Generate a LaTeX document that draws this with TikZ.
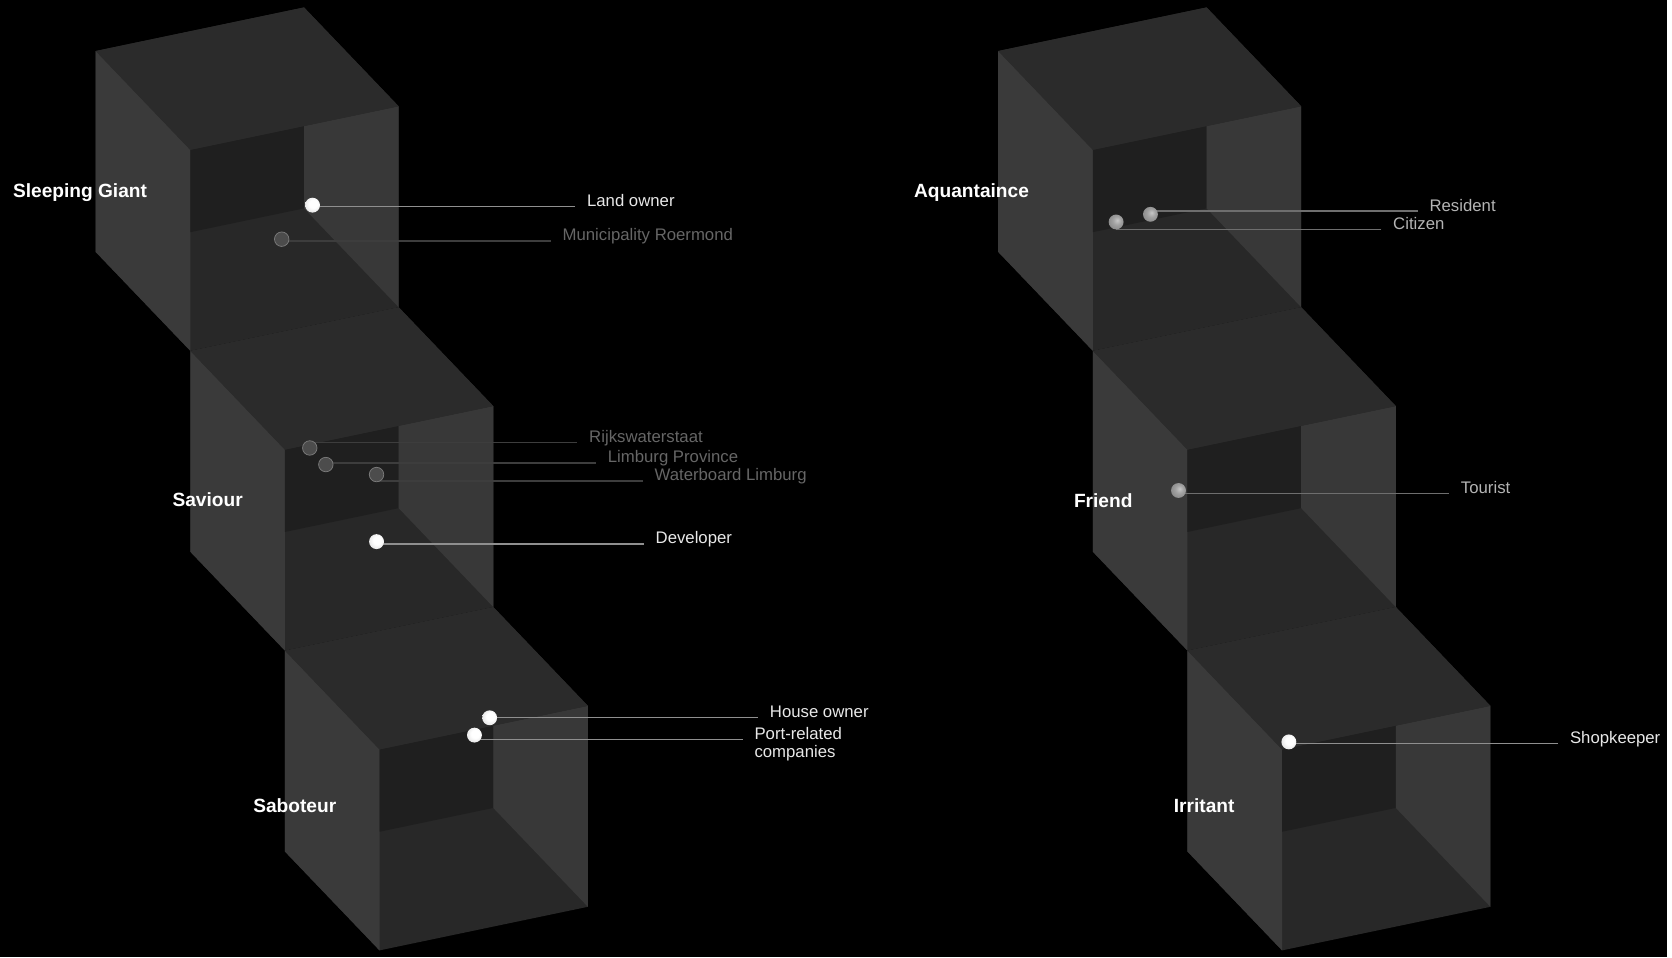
\documentclass[tikz,border=0pt]{standalone}
\usepackage{fontspec}
\setmainfont{Liberation Sans}
\usepackage{tikz}
\usetikzlibrary{positioning,calc}
\usepackage{xcolor}
\definecolor{hullgray}{HTML}{282828}
\definecolor{sidegray}{HTML}{3A3A3A}
\definecolor{rightgray}{HTML}{383838}
\definecolor{lidgray}{HTML}{2B2B2B}
\definecolor{wellgray}{HTML}{1F1F1F}
\definecolor{txtlight}{HTML}{E8E8E8}
\definecolor{txtmid}{HTML}{B4B4B4}
\definecolor{txtdim}{HTML}{666666}
\definecolor{leadlight}{HTML}{8F8F8F}
\definecolor{leadmid}{HTML}{6E6E6E}
\definecolor{leaddim}{HTML}{3D3D3D}
\pgfdeclareradialshading{pearl}{\pgfpoint{4bp}{6bp}}{color(0bp)=(white); color(14bp)=(white); color(32bp)=(white!88!black); color(50bp)=(white!70!black)}
\pgfdeclareradialshading{stone}{\pgfpoint{4bp}{6bp}}{color(0bp)=(white!78!black); color(14bp)=(white!63!black); color(50bp)=(white!42!black)}

\begin{document}
\begin{tikzpicture}[
  x=0.025cm, y=-0.025cm,
  hull/.style={fill=hullgray},
  faceL/.style={fill=sidegray},
  faceR/.style={fill=rightgray},
  facetop/.style={fill=lidgray},
  facein/.style={fill=wellgray},
  group/.style={anchor=base west, inner sep=0pt, text=white, font=\fontsize{12.8}{15}\selectfont\bfseries},
  item/.style={anchor=base west, inner xsep=0.275cm, inner ysep=0pt, font=\fontsize{11.2}{12.2}\selectfont},
  dotw/.style={circle, inner sep=0pt, minimum size=0.35cm, shading=pearl},
  dotm/.style={circle, inner sep=0pt, minimum size=0.35cm, shading=stone},
  dotg/.style={circle, inner sep=0pt, minimum size=0.34cm, fill=white!30!black, draw=white!48!black, line width=0.5pt},
  leadw/.style={draw=leadlight, line width=0.8pt},
  leadm/.style={draw=leadmid, line width=0.8pt},
  leadg/.style={draw=leaddim, line width=0.8pt}
]

% ---- background ----
\fill[black] (0,0) rectangle (1568,900.3);

% ---- stacked boxes ----
\foreach \cx/\cy in {90/48,179/330,268/612,939/48,1028/330,1117/612}{
  \begin{scope}[shift={(\cx,\cy)}]
    \fill[hull] (0,0) -- (196,-41) -- (285,52) -- (285,241) -- (89,282) -- (0,189) -- cycle;
    \fill[faceL] (0,0) -- (89,93) -- (89,282) -- (0,189) -- cycle;
    \fill[facein] (89,93) -- (196,70.6) -- (196,148) -- (89,170.4) -- cycle;
    \fill[faceR] (196,70.6) -- (285,52) -- (285,241) -- (196,148) -- cycle;
    \fill[facetop] (0,0) -- (196,-41) -- (285,52) -- (89,93) -- cycle;
  \end{scope}
}

% ---- group names ----
\node[group] (giant) at (12,186) {Sleeping Giant};
\node[group] (saviour) at (162,476.5) {Saviour};
\node[group] (saboteur) at (238,764) {Saboteur};
\node[group] (aquaint) at (859.6,186) {Aquantaince};
\node[group] (friend) at (1010,477) {Friend};
\node[group] (irritant) at (1104,764) {Irritant};

% ---- actor labels ----
\node[item, text=txtlight] (tland) at (541,194.4) {Land owner};
\node[item, text=txtdim] (tmuni) at (518,226.7) {Municipality Roermond};
\node[item, text=txtdim] (trws) at (543,416.4) {Rijkswaterstaat};
\node[item, text=txtdim] (tprov) at (560.5,435.5) {Limburg Province};
\node[item, text=txtdim] (twater) at (604.5,452.4) {Waterboard Limburg};
\node[item, text=txtlight] (tdev) at (605.5,511.7) {Developer};
\node[item, text=txtlight] (thouse) at (713,674.6) {House owner};
\node[item, text=txtlight] (tport) at (698.5,695.6) {\vtop{\hbox{Port-related}\hbox{companies}}};
\node[item, text=txtmid] (tres) at (1333.5,198.5) {Resident};
\node[item, text=txtmid] (tcit) at (1299.3,215.7) {Citizen};
\node[item, text=txtmid] (ttour) at (1363,464) {Tourist};
\node[item, text=txtlight] (tshop) at (1465.6,699.7) {Shopkeeper};

% ---- actor dots ----
\coordinate (land) at (294,193);
\coordinate (muni) at (265,225);
\coordinate (rws) at (291.4,421.4);
\coordinate (prov) at (306.5,437);
\coordinate (water) at (354.2,446.4);
\coordinate (dev) at (354.2,509.5);
\coordinate (house) at (460.6,675.2);
\coordinate (port) at (446.3,691.5);
\coordinate (res) at (1082.2,201.6);
\coordinate (cit) at (1049.9,208.8);
\coordinate (tour) at (1108.6,461.4);
\coordinate (shop) at (1212.4,697.9);

\draw[leadw] (tland.base west) -- (tland.base west -| land);
\draw[leadg] (tmuni.base west) -- (tmuni.base west -| muni);
\draw[leadg] (trws.base west) -- (trws.base west -| rws);
\draw[leadg] (tprov.base west) -- (tprov.base west -| prov);
\draw[leadg] (twater.base west) -- (twater.base west -| water);
\draw[leadw] (tdev.base west) -- (tdev.base west -| dev);
\draw[leadw] (thouse.base west) -- (thouse.base west -| house);
\draw[leadw] (tport.base west) -- (tport.base west -| port);
\draw[leadm] (tres.base west) -- (tres.base west -| res);
\draw[leadm] (tcit.base west) -- (tcit.base west -| cit);
\draw[leadm] (ttour.base west) -- (ttour.base west -| tour);
\draw[leadw] (tshop.base west) -- (tshop.base west -| shop);

\node[dotw] (landdot) at (land) {};
\node[dotg] (munidot) at (muni) {};
\node[dotg] (rwsdot) at (rws) {};
\node[dotg] (provdot) at (prov) {};
\node[dotg] (waterdot) at (water) {};
\node[dotw] (devdot) at (dev) {};
\node[dotw] (housedot) at (house) {};
\node[dotw] (portdot) at (port) {};
\node[dotm] (resdot) at (res) {};
\node[dotm] (citdot) at (cit) {};
\node[dotm] (tourdot) at (tour) {};
\node[dotw] (shopdot) at (shop) {};

\end{tikzpicture}
\end{document}
